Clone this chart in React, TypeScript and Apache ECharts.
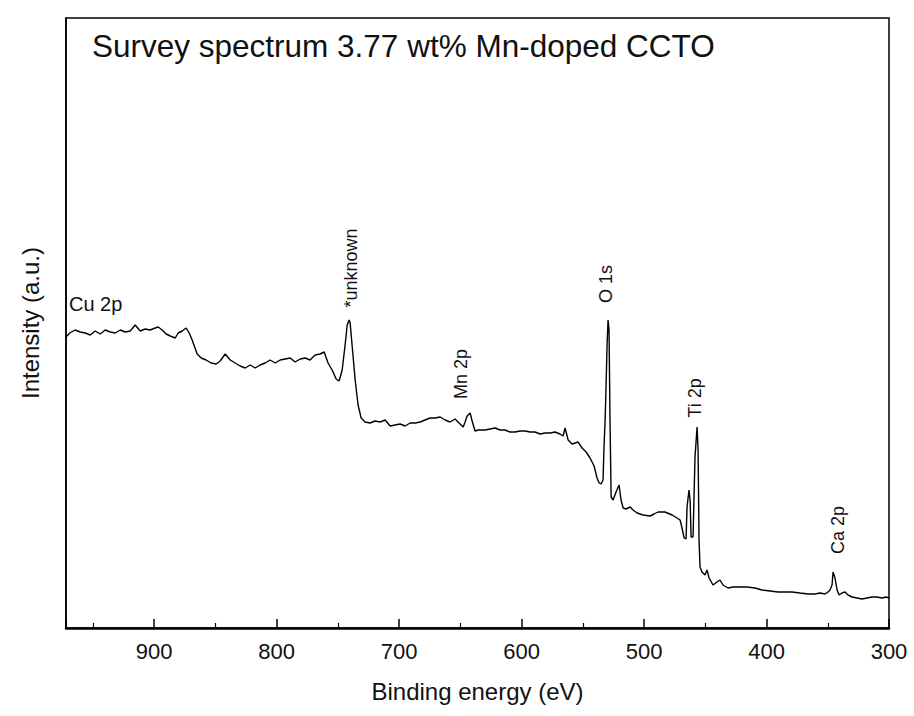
import React, { useEffect, useRef } from "react";
import * as echarts from "echarts";

const energy = [972,969,964.5,960.4,956.3,952.2,948.1,944.1,940,935.9,
931.8,927.7,923.7,919.6,915.5,911.4,907.3,903.3,899.2,896.7,
893.5,890.2,886.9,882.8,880.4,877.1,873.9,871.4,869,864.9,
861.6,857.6,853.5,849.4,846.1,842,837.9,833.9,829.8,825.7,
821.6,817.5,813.5,809.4,805.3,801.2,797.1,793.1,789,784.9,
780.8,776.7,772.7,768.6,764.5,761.2,758,754.7,751.4,749,
746.5,744.1,742.4,740.8,740,738.4,735.9,733.5,731,727.8,
723.7,719.6,715.5,711.4,707.3,703.3,699.2,695.1,691,686.9,
682.8,678.8,674.7,670.6,666.5,662.4,658.4,654.3,650.2,647.7,
646.1,644.5,642,640.4,638,635.5,629.8,625.7,621.6,617.6,
613.5,609.4,605.3,601.2,597.1,593.1,589,584.9,580.8,576.7,
572.7,568.6,566.1,564.5,562,558.8,556.3,553.9,550.6,547.3,
544.1,540.8,538.4,536.7,535.1,533.5,532.7,531.8,531,530.2,
529.4,528.6,527.8,526.9,525.3,522.9,520.4,518.8,517.1,514.7,
511.4,509,505.7,500.8,495.1,491.8,488.6,482.9,477.1,473.1,
470.6,469,467.3,465.7,464.9,463.3,462.4,461.6,460,458.4,
456.7,455.9,455.1,454.3,452.7,450.2,448.6,446.9,443.7,440.4,
438,435.5,431.4,427.3,421.6,415.9,409.4,403.7,397.1,390.6,
384.9,379.2,372.7,366.1,360.4,356.3,352.2,349.8,348.2,346.5,
345.7,344.1,342.4,340.8,338.4,335.9,333.5,330.2,326.1,322,
318,313.9,309.8,305.7,302.4,300];

const intensity = [291,295,298,296,295,293,297,294,298,296,
295,298,296,297,303,297,299,298,300,301,
298,294,292,290,295,297,300,295,288,274,
270,268,265,264,267,274,268,265,262,260,
263,260,263,265,268,265,268,269,270,266,
269,270,268,273,274,276,265,258,249,247,
258,283,303,308,305,283,248,223,210,206,
205,207,206,208,202,203,204,202,205,205,
206,208,210,210,211,208,206,209,204,201,
206,212,215,207,197,198,198,199,200,198,
198,196,196,197,197,196,196,194,195,195,
196,194,192,200,188,184,185,186,180,176,
170,162,150,145,144,148,181,208,243,283,
308,298,208,131,128,136,143,128,120,119,
121,118,115,113,112,114,116,116,113,110,
108,100,90,89,121,138,128,91,91,171,
201,178,88,61,56,53,58,50,43,46,
48,43,40,41,41,41,40,38,37,36,
36,36,35,34,34,35,34,36,38,43,
56,50,38,33,35,36,33,31,30,29,
30,31,31,30,31,30];

const xTicks = [300, 400, 500, 600, 700, 800, 900];
const titleText = "Survey spectrum 3.77 wt% Mn-doped CCTO";
const xName = "Binding energy (eV)";
const yName = "Intensity (a.u.)";
const peakLabels = ["*unknown", "O 1s", "Mn 2p", "Ti 2p", "Ca 2p"];
const cuLabel = "Cu 2p";

const FONT = "'Liberation Sans', Arial, sans-serif";

export default function App() {
  const ref = useRef<HTMLDivElement>(null);
  useEffect(() => {
    if (!ref.current) return;
    const chart = echarts.init(ref.current, null, { renderer: "svg" });
    const data = energy.map((e, i) => [e, intensity[i]]);
    const rotPos = [
      [351, 268],
      [606, 284],
      [461, 374],
      [695, 398],
      [838, 530],
    ];
    chart.setOption({
      animation: false,
      backgroundColor: "#fff",
      textStyle: { fontFamily: FONT },
      grid: {
        left: 66, right: 25, top: 18, bottom: 88,
        show: true, borderColor: "#000", borderWidth: 1.5, backgroundColor: "transparent",
      },
      xAxis: {
        type: "value",
        inverse: true,
        min: 300,
        max: 972,
        interval: 100,
        name: xName,
        nameLocation: "middle",
        nameGap: 51,
        nameTextStyle: { fontSize: 24, color: "#111", fontFamily: FONT },
        axisLine: { show: true, lineStyle: { color: "#000", width: 2.5 } },
        axisTick: { show: true, inside: true, length: 9, lineStyle: { color: "#000", width: 1.5 } },
        minorTick: { show: true, splitNumber: 2, length: 5, lineStyle: { color: "#000", width: 1.2 } },
        axisLabel: {
          fontSize: 22, color: "#111", margin: 12, fontFamily: FONT,
          showMaxLabel: false,
          formatter: (v: number) => (xTicks.includes(v) ? String(v) : ""),
        },
        splitLine: { show: false },
      },
      yAxis: {
        type: "value",
        min: 0,
        max: 610,
        name: yName,
        nameLocation: "middle",
        nameRotate: 90,
        nameGap: 24,
        nameTextStyle: { fontSize: 24, color: "#111", fontFamily: FONT },
        axisLine: { show: true, lineStyle: { color: "#000", width: 1.5 } },
        axisTick: { show: false },
        axisLabel: { show: false },
        splitLine: { show: false },
      },
      series: [
        {
          type: "line",
          data,
          showSymbol: false,
          lineStyle: { color: "#000", width: 1.4 },
          itemStyle: { color: "#000" },
        },
      ],
      graphic: [
        {
          type: "text",
          left: 92,
          top: 30,
          style: { text: titleText, fontSize: 31.5, fill: "#111", fontFamily: FONT },
        },
        {
          type: "text",
          left: 69,
          top: 294,
          style: { text: cuLabel, fontSize: 20, fill: "#111", fontFamily: FONT },
        },
        ...peakLabels.map((t, i) => ({
          type: "text",
          x: rotPos[i][0],
          y: rotPos[i][1],
          rotation: Math.PI / 2,
          style: {
            text: t, fontSize: 18, fill: "#111", fontFamily: FONT,
            align: "center", verticalAlign: "middle",
          },
        })),
      ],
    });
    return () => chart.dispose();
  }, []);
  return (
    <div
      ref={ref}
      style={{ position: "fixed", left: 0, top: 0, width: 914, height: 716 }}
    />
  );
}
